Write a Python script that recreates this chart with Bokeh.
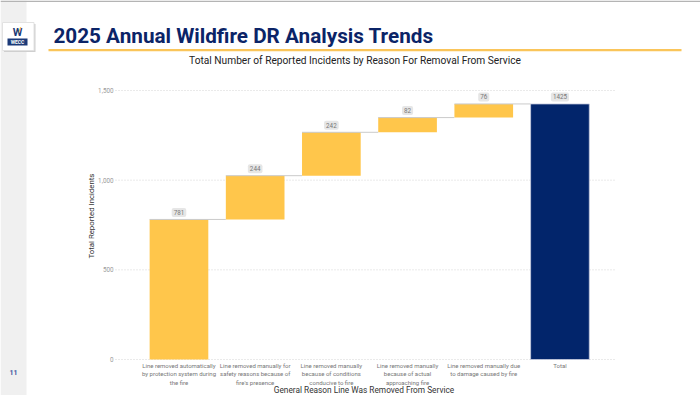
from bokeh.plotting import figure
from bokeh.models import Range1d
from bokeh.embed import file_html
from bokeh.resources import INLINE
from bokeh.core.properties import value

# ---------------- data ----------------
categories = [
    "Line removed automatically\nby protection system during\nthe fire",
    "Line removed manually for\nsafety reasons because of\nfire's presence",
    "Line removed manually\nbecause of conditions\nconducive to fire",
    "Line removed manually\nbecause of actual\napproaching fire",
    "Line removed manually due\nto damage caused by fire",
    "Total",
]
increments = [781, 244, 242, 82, 76]
total_value = 1425
y_ticks = [0, 500, 1000, 1500]
y_tick_labels = ["0", "500", "1,000", "1,500"]

title_text = "2025 Annual Wildfire DR Analysis Trends"
subtitle_text = "Total Number of Reported Incidents by Reason For Removal From Service"
x_title = "General Reason Line Was Removed From Service"
y_title = "Total Reported Incidents"
page_number = "11"

# ---------------- derived values ----------------
bottoms, tops = [], []
run = 0
for v in increments:
    bottoms.append(run)
    run += v
    tops.append(run)
xs_inc = list(range(len(increments)))
x_total = len(increments)
all_x = xs_inc + [x_total]
all_top = tops + [total_value]
all_txt = [str(v) for v in increments] + [str(total_value)]

# ---------------- layout / style ----------------
YELLOW = "#FFC64B"
NAVY = "#02256B"
FONT = value("Roboto")

W, H = 700, 395
# chart plot box in page pixels and its data extent
PL, PR, PT, PB = 115, 615, 90, 359
X_MIN, X_MAX = -0.833, 5.729
Y_MIN, Y_MAX = 0, 1500
kx = (X_MAX - X_MIN) / (PR - PL)
ky = (Y_MAX - Y_MIN) / (PB - PT)
x_range = Range1d(X_MIN - PL * kx, X_MAX + (W - PR) * kx)
y_range = Range1d(Y_MIN - (H - PB) * ky, Y_MAX + PT * ky)

p = figure(width=W, height=H, output_backend="svg", toolbar_location=None,
           x_range=x_range, y_range=y_range,
           x_axis_location=None, y_axis_location=None,
           min_border=0, min_border_left=0, min_border_right=0,
           min_border_top=0, min_border_bottom=0)
p.extra_x_ranges = {"px": Range1d(0, W)}
p.extra_y_ranges = {"px": Range1d(H, 0)}
p.outline_line_color = None
p.background_fill_color = "white"
p.border_fill_color = "white"
p.grid.visible = False

PX = dict(x_range_name="px", y_range_name="px")

# ---------- slide decorations ----------
p.quad(left=[0], right=[26], top=[0], bottom=[H], fill_color="#f0f0f0", line_color=None, **PX)
p.quad(left=[0], right=[W], top=[0], bottom=[1.5], fill_color="#b4b4b4", line_color=None, **PX)
p.quad(left=[48], right=[681], top=[48.5], bottom=[50.8], fill_color="#FAC55A", line_color=None, **PX)
# logo (shadow + box)
p.quad(left=[3.5], right=[35], top=[23.5], bottom=[51.5], fill_color="#cfcfcf", line_color=None, **PX)
p.quad(left=[2], right=[33.5], top=[22], bottom=[50], fill_color="white", line_color="#e2e2e2", **PX)
p.quad(left=[7], right=[27], top=[38], bottom=[45], fill_color="#1c3a78", line_color=None, **PX)
p.text(x=[17], y=[31.5], text=["W"], text_align="center", text_baseline="middle",
       text_font=FONT, text_font_style="bold", text_font_size="11px", text_color="#1c3a78", **PX)
p.text(x=[19.5], y=[29], text=["/"], text_align="center", text_baseline="middle",
       text_font=FONT, text_font_style="bold", text_font_size="8px", text_color="#F5B731", **PX)
p.text(x=[17], y=[41.7], text=["WECC"], text_align="center", text_baseline="middle",
       text_font=FONT, text_font_style="bold", text_font_size="5px", text_color="white", **PX)

p.text(x=[53], y=[35.5], text=[title_text], text_align="left", text_baseline="middle",
       text_font=FONT, text_font_style="bold", text_font_size="20.7px", text_color="#0B2467", **PX)
p.text(x=[354.5], y=[60], text=[subtitle_text], text_align="center", text_baseline="middle",
       text_font=FONT, text_font_size="10.2px", text_color="#222222", **PX)
p.text(x=[13], y=[372], text=[page_number], text_align="center", text_baseline="middle",
       text_font=FONT, text_font_style="bold", text_font_size="7px", text_color="#3f58a0", **PX)

# ---------- chart: grid + y tick labels ----------
p.segment(x0=[X_MIN] * len(y_ticks), x1=[X_MAX] * len(y_ticks), y0=y_ticks, y1=y_ticks,
          line_color="#d4d4d4", line_width=1, line_dash="1 2")
p.text(x=[X_MIN] * len(y_ticks), y=y_ticks, text=y_tick_labels, x_offset=-2,
       text_align="right", text_baseline="middle", text_font=FONT,
       text_font_size="6.3px", text_color="#9a9a9a")

# ---------- bars ----------
bw = 0.77
p.vbar(x=xs_inc, width=bw, bottom=bottoms, top=tops, fill_color=YELLOW, line_color=None)
p.vbar(x=[x_total], width=bw, bottom=[0], top=[total_value], fill_color=NAVY,
       line_color="#c8cde0", line_width=0.8)

# connectors
cx0 = [x - bw / 2 for x in xs_inc]
cx1 = [x + 1 - bw / 2 for x in xs_inc]
p.segment(x0=cx0, y0=tops, x1=cx1, y1=tops, line_color="#cacaca", line_width=1)

# value labels
p.text(x=all_x, y=all_top, text=all_txt, y_offset=-7, text_align="center", text_baseline="middle",
       text_font=FONT, text_font_size="6.3px", text_color="#777777",
       background_fill_color="#e6e6e6", border_radius=2, padding=2)

# x category labels
p.text(x=all_x, y=[Y_MIN] * len(all_x), text=categories, y_offset=2.5,
       text_align="center", text_baseline="top", text_font=FONT, text_font_size="6px",
       text_color="#777777", text_line_height=1.2)

# axis titles
p.text(x=[(X_MIN + X_MAX) / 2 - 0.02], y=[Y_MIN], text=[x_title], y_offset=30.5,
       text_align="center", text_baseline="middle", text_font=FONT, text_font_size="8.3px",
       text_color="#333333")
p.text(x=[X_MIN], y=[(Y_MIN + Y_MAX) / 2 + 50], text=[y_title], x_offset=-24, angle=1.5708,
       text_align="center", text_baseline="middle", text_font=FONT, text_font_size="7.8px",
       text_color="#333333")

open("out.html", "w").write(file_html(p, INLINE))
